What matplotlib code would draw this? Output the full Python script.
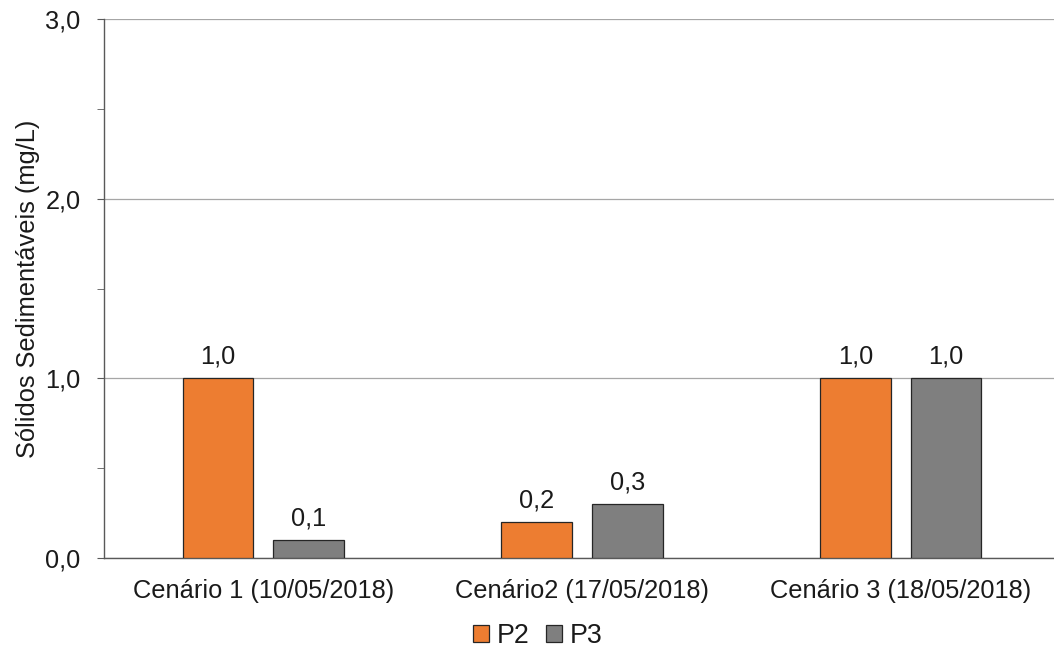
import matplotlib
matplotlib.use("Agg")
import matplotlib.pyplot as plt
from matplotlib.ticker import MultipleLocator, FuncFormatter
import numpy as np

plt.rcParams['font.family'] = ['Liberation Sans', 'DejaVu Sans']

categories = ["Cenário 1 (10/05/2018)", "Cenário2 (17/05/2018)", "Cenário 3 (18/05/2018)"]
p2_values = [1.0, 0.2, 1.0]
p3_values = [0.1, 0.3, 1.0]
series_names = ["P2", "P3"]
colors = ["#ED7D31", "#7F7F7F"]

fig = plt.figure(figsize=(10.54, 6.55), dpi=100)
ax = fig.add_axes([104 / 1054, 1 - 558 / 655, (1060 - 104) / 1054, (558 - 19) / 655])

x = np.arange(len(categories))
width = 0.222
offset = 0.142
fs = 18.3

bars = []
for vals, off, col, name in zip([p2_values, p3_values], [-offset, offset], colors, series_names):
    b = ax.bar(x + off, vals, width, color=col, edgecolor="#262626", linewidth=0.9,
               label=name, zorder=3)
    bars.append(b)
    for xi, v in zip(x + off, vals):
        ax.annotate(f"{v:.1f}".replace(".", ","), (xi, v), xytext=(0, 7),
                    textcoords="offset points", ha="center", va="bottom",
                    fontsize=fs, color="#1a1a1a")

ax.set_xlim(-0.5, 2.5)
ax.set_ylim(0, 3.0)
ax.yaxis.set_major_locator(MultipleLocator(1.0))
ax.yaxis.set_minor_locator(MultipleLocator(0.5))
ax.yaxis.set_major_formatter(FuncFormatter(lambda v, p: f"{v:.1f}".replace(".", ",")))
ax.set_xticks(x)
ax.set_xticklabels(categories)

ax.grid(axis="y", color="#A6A6A6", linewidth=0.9, zorder=0)
for s in ["top", "right"]:
    ax.spines[s].set_visible(False)
for s in ["left", "bottom"]:
    ax.spines[s].set_color("#595959")
    ax.spines[s].set_linewidth(1.0)

ax.tick_params(axis="y", which="both", direction="out", length=5, color="#595959",
               labelsize=fs, labelcolor="#1a1a1a", pad=12)
ax.tick_params(axis="x", length=0, labelsize=fs, labelcolor="#1a1a1a", pad=15)

ax.set_ylabel("Sólidos Sedimentáveis (mg/L)", fontsize=fs, color="#1a1a1a", labelpad=4)

fig.legend(handles=bars, labels=series_names, loc="center", bbox_to_anchor=(538 / 1054, 1 - 636 / 655),
           ncol=2, frameon=False, fontsize=fs + 1, handlelength=0.6, handleheight=0.6,
           handletextpad=0.3, columnspacing=0.6, labelcolor="#1a1a1a")

fig.savefig("out.png", dpi=100)
